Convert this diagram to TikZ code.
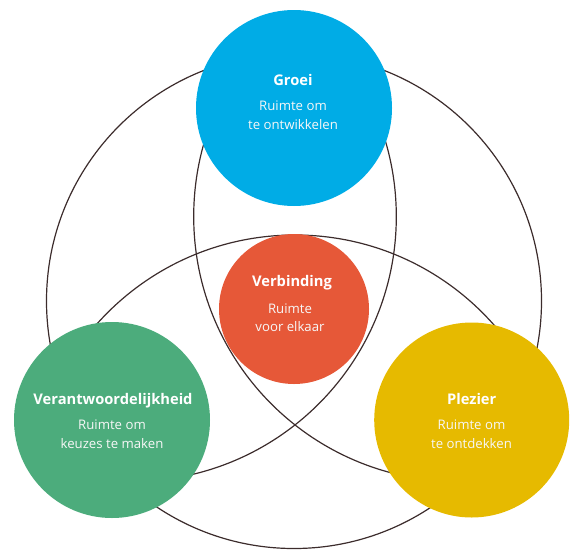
\documentclass[tikz,border=0pt]{standalone}
\usepackage{fontspec}
\setmainfont{Open Sans}
\definecolor{cblue}{RGB}{0,172,230}
\definecolor{cred}{RGB}{230,88,56}
\definecolor{cgreen}{RGB}{76,172,124}
\definecolor{cyellow}{RGB}{230,186,0}
\definecolor{cline}{RGB}{60,44,44}
\tikzset{
  ring/.style={draw=cline, line width=1.2pt},
  disc/.style={circle, inner sep=0pt, draw=none},
  title/.style={text=white, font=\bfseries\fontsize{14.7}{17}\selectfont, inner sep=0pt, anchor=base},
  sub/.style={text=white!94!gray, font=\fontsize{13.2}{15}\selectfont, inner sep=0pt, anchor=base}
}
\begin{document}
\begin{tikzpicture}[x=1pt,y=-1pt]
\useasboundingbox (0,0) rectangle (572,549);
% outline rings
\draw[ring] (294,301) circle[radius=247.5pt];
\begin{scope}
  \clip (294,301) circle[radius=247.5pt];
  \draw[ring] (295,500) circle[radius=265pt];
  \draw[ring] (458.7,216.5) circle[radius=265pt];
  \draw[ring] (131.3,216.5) circle[radius=265pt];
\end{scope}
% coloured discs
\node[disc, fill=cred, minimum size=150pt] (verbinding) at (294,309) {};
\node[disc, fill=cblue, minimum size=196pt] (groei) at (294,108) {};
\node[disc, fill=cgreen, minimum size=196pt] (verantw) at (112,420) {};
\node[disc, fill=cyellow, minimum size=195pt] (plezier) at (471.7,420) {};
% texts
\node[title] (groeiT) at (293,85) {Groei};
\node[sub] (groeiA) at (293,110) {Ruimte om};
\node[sub] (groeiB) at (293,129.5) {te ontwikkelen};
\node[title] (verbT) at (292,286.7) {Verbinding};
\node[sub] (verbA) at (290,313.3) {Ruimte};
\node[sub] (verbB) at (290,331.7) {voor elkaar};
\node[title] (verT) at (113,404) {Verantwoordelijkheid};
\node[sub] (verA) at (112,429.5) {Ruimte om};
\node[sub] (verB) at (112,448.3) {keuzes te maken};
\node[title] (plzT) at (471.7,404) {Plezier};
\node[sub] (plzA) at (471.5,429.5) {Ruimte om};
\node[sub] (plzB) at (471.5,448.3) {te ontdekken};
\end{tikzpicture}
\end{document}
